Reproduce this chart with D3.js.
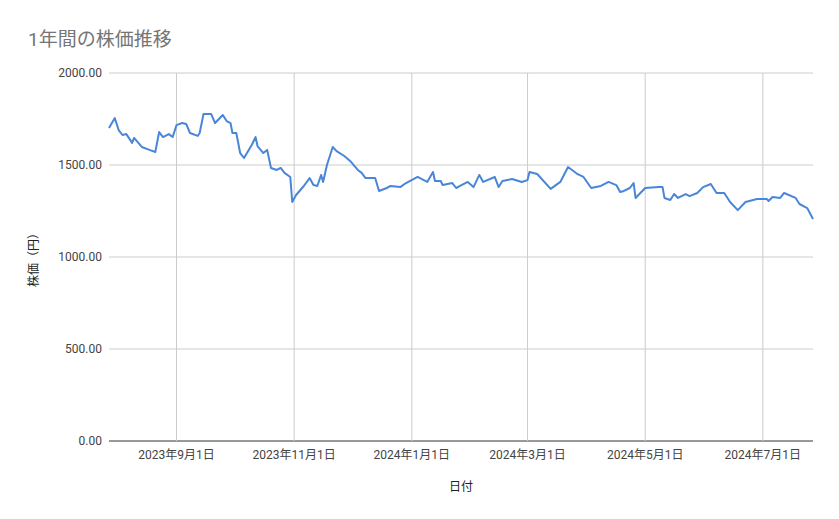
<!DOCTYPE html>
<html><head><meta charset="utf-8">
<script src="https://cdn.jsdelivr.net/npm/d3@7"></script>
<style>body{margin:0;background:#fff;font-family:Roboto,"Noto Sans CJK JP",sans-serif;}</style>
</head><body><svg id="c" width="839" height="519"></svg>
<script>
// dates and prices
let dates = ['2023-07-28','2023-07-31','2023-08-02','2023-08-04','2023-08-06','2023-08-09','2023-08-10','2023-08-14','2023-08-18','2023-08-21','2023-08-23','2023-08-25','2023-08-28','2023-08-30','2023-09-01','2023-09-04','2023-09-06','2023-09-08','2023-09-12','2023-09-13','2023-09-15','2023-09-19','2023-09-21','2023-09-25','2023-09-27','2023-09-29','2023-09-30','2023-10-02','2023-10-04','2023-10-06','2023-10-10','2023-10-12','2023-10-13','2023-10-16','2023-10-18','2023-10-20','2023-10-23','2023-10-25','2023-10-27','2023-10-30','2023-10-31','2023-11-02','2023-11-06','2023-11-09','2023-11-11','2023-11-13','2023-11-15','2023-11-16','2023-11-18','2023-11-21','2023-11-23','2023-11-27','2023-11-30','2023-12-04','2023-12-06','2023-12-08','2023-12-13','2023-12-15','2023-12-19','2023-12-21','2023-12-26','2023-12-29','2024-01-04','2024-01-09','2024-01-12','2024-01-13','2024-01-16','2024-01-17','2024-01-22','2024-01-24','2024-01-26','2024-01-30','2024-02-02','2024-02-05','2024-02-07','2024-02-13','2024-02-15','2024-02-17','2024-02-22','2024-02-27','2024-03-01','2024-03-02','2024-03-06','2024-03-13','2024-03-18','2024-03-22','2024-03-27','2024-03-30','2024-04-03','2024-04-08','2024-04-12','2024-04-16','2024-04-18','2024-04-20','2024-04-23','2024-04-25','2024-04-26','2024-05-01','2024-05-08','2024-05-10','2024-05-11','2024-05-14','2024-05-16','2024-05-18','2024-05-22','2024-05-24','2024-05-28','2024-05-31','2024-06-04','2024-06-07','2024-06-11','2024-06-14','2024-06-18','2024-06-22','2024-06-26','2024-06-28','2024-07-03','2024-07-04','2024-07-06','2024-07-10','2024-07-12','2024-07-18','2024-07-20','2024-07-24','2024-07-27'];
let prices = [1701,1755,1690,1663,1668,1620,1647,1598,1582,1571,1679,1652,1668,1652,1717,1728,1723,1674,1658,1674,1777,1777,1728,1772,1739,1728,1674,1674,1565,1538,1609,1652,1603,1565,1582,1484,1473,1484,1457,1435,1299,1337,1386,1429,1391,1386,1446,1408,1500,1598,1575,1549,1522,1473,1457,1429,1429,1359,1375,1386,1380,1402,1435,1408,1462,1413,1413,1391,1402,1375,1386,1408,1380,1446,1408,1435,1380,1413,1424,1408,1418,1462,1451,1370,1408,1489,1450,1435,1375,1386,1408,1391,1353,1359,1375,1402,1321,1375,1380,1380,1321,1310,1342,1321,1342,1331,1348,1380,1397,1348,1348,1299,1255,1299,1310,1315,1315,1304,1326,1321,1348,1321,1288,1266,1207];
let tickDates = ['2023-09-01','2023-11-01','2024-01-01','2024-03-01','2024-05-01','2024-07-01'];
let yTicks = [0,500,1000,1500,2000];

let parse = d3.timeParse('%Y-%m-%d');
let data = dates.map((d,i) => ({date: parse(d), v: prices[i]}));
let svg = d3.select('#c');
let L = 109, R = 813, T = 73, B = 441;

let x = d3.scaleTime().domain([parse('2023-07-28'), parse('2024-07-27')]).range([L, R]);
let y = d3.scaleLinear().domain([0, 2000]).range([B, T]);

//grid
svg.append('g').selectAll('line').data(yTicks).join('line')
	.attr('x1', L).attr('x2', R).attr('y1', d => y(d)).attr('y2', d => y(d))
	.attr('stroke', d => d == 0 ? '#333' : '#ccc').attr('stroke-width', 1);
svg.append('g').selectAll('line').data(tickDates).join('line')
	.attr('x1', d => x(parse(d))).attr('x2', d => x(parse(d)))
	.attr('y1', T).attr('y2', B).attr('stroke', '#ccc');

svg.append('g').selectAll('text').data(yTicks).join('text')
	.attr('x', 102).attr('y', d => y(d) + 4).attr('text-anchor', 'end')
	.attr('font-size', 12).attr('fill', '#444').text(d => d.toFixed(2));
svg.append('g').selectAll('text').data(tickDates).join('text')
	.attr('x', d => x(parse(d))).attr('y', 459).attr('text-anchor', 'middle')
	.attr('font-size', 12).attr('fill', '#444')
	.text(d => { let t = parse(d); return t.getFullYear() + '年' + (t.getMonth()+1) + '月' + t.getDate() + '日'; });

let line = d3.line().x(d => x(d.date)).y(d => y(d.v));
svg.append('path').attr('d', line(data)).attr('fill', 'none')
	.attr('stroke', '#4a86d8').attr('stroke-width', 2).attr('stroke-linejoin', 'round');

svg.append('text').attr('x', 28).attr('y', 46).attr('font-size', 19).attr('fill', '#757575')
	.text('1年間の株価推移');
svg.append('text').attr('x', 461).attr('y', 491).attr('text-anchor', 'middle')
	.attr('font-size', 12).attr('fill', '#222').text('日付');
svg.append('text').attr('transform', 'translate(38,257) rotate(-90)').attr('text-anchor', 'middle')
	.attr('font-size', 12).attr('fill', '#222').text('株価（円）');
</script></body></html>
